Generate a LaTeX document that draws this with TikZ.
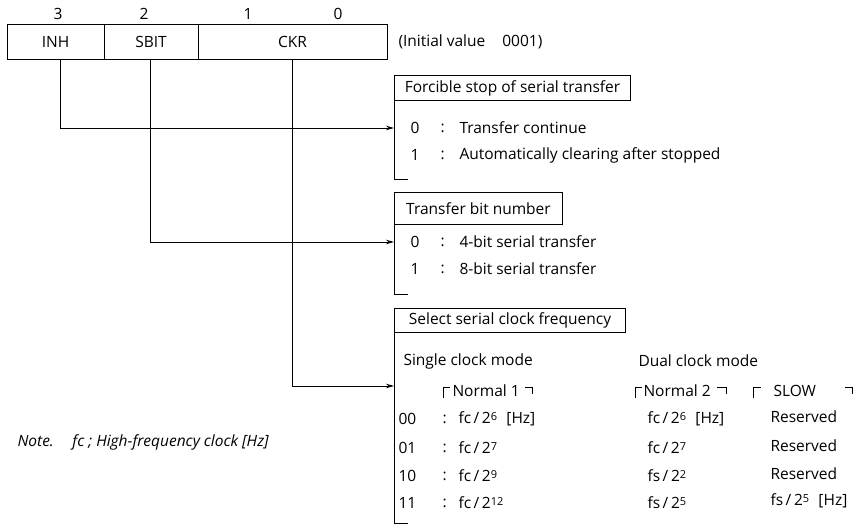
\documentclass[tikz,border=0pt]{standalone}
\usepackage{fontspec}
\setmainfont{Open Sans}
\usetikzlibrary{arrows.meta}
\newcommand{\spw}[1]{\raisebox{0.35ex}{\fontsize{11}{12}\selectfont #1}}
\begin{document}
\begin{tikzpicture}[x=1pt,y=-1pt,line width=1pt,
  font=\fontsize{15.5}{18}\selectfont,
  cell/.style={draw, minimum height=34, inner sep=0},
  titlebox/.style={draw, minimum height=25, inner sep=0, anchor=north west},
  lab/.style={anchor=west, inner sep=0},
  arr/.style={-{Stealth[length=8pt,width=4.5pt]}}]
\useasboundingbox (0,0) rectangle (858,527);
% register
\node[cell, minimum width=97] (inh) at (55.5,42) {INH};
\node[cell, minimum width=94] (sbit) at (151,42) {SBIT};
\node[cell, minimum width=189] (ckr) at (292.5,42) {CKR};
\node (d3) at (58,14) {3};
\node (d2) at (144,14) {2};
\node (d1) at (248,14) {1};
\node (d0) at (338,14) {0};
\node[lab] (init) at (398,42) {(Initial value\hspace{1.1em}0001)};
% box 1
\node[titlebox, minimum width=236] (t1) at (394,75) {Forcible stop of serial transfer};
\coordinate (a1) at (394,128);
\coordinate (h1) at (408,179);
\draw (t1.south west) |- (h1);
\node[lab] (r10) at (410,128) {0};
\node[lab] (c10) at (440,128) {:};
\node[lab] (v10) at (459,128) {Transfer continue};
\node[lab] (r11) at (410,155) {1};
\node[lab] (c11) at (440,155) {:};
\node[lab] (v11) at (459,155) {Automatically clearing after stopped};
% box 2
\node[titlebox, minimum width=168, minimum height=32] (t2) at (394,192) {Transfer bit number};
\coordinate (a2) at (394,242);
\coordinate (h2) at (408,294);
\draw (t2.south west) |- (h2);
\node[lab] (r20) at (410,242) {0};
\node[lab] (c20) at (440,242) {:};
\node[lab] (v20) at (459,242) {4-bit serial transfer};
\node[lab] (r21) at (410,269) {1};
\node[lab] (c21) at (440,269) {:};
\node[lab] (v21) at (459,269) {8-bit serial transfer};
% box 3
\node[titlebox, minimum width=231, minimum height=24] (t3) at (394,308) {Select serial clock frequency};
\coordinate (a3) at (394,386);
\coordinate (h3) at (408,523);
\draw (t3.south west) |- (h3);
\node[lab] (single) at (403,361) {Single clock mode};
\node[lab] (dual) at (638,361) {Dual clock mode};
\node[lab] (n1) at (452,391) {Normal 1};
\node[lab] (n2) at (643,391) {Normal 2};
\node[lab] (slow) at (773,391) {SLOW};
\draw (443,398) -- (443,387) -- (450,387);
\draw ([xshift=5pt]n1.east |- 0,387) -- ([xshift=12pt]n1.east |- 0,387) -- ([xshift=12pt]n1.east |- 0,394);
\draw (635,398) -- (635,387) -- (642,387);
\draw ([xshift=6pt]n2.east |- 0,387) -- ([xshift=15pt]n2.east |- 0,387) -- ([xshift=15pt]n2.east |- 0,394);
\draw (753,398) -- (753,387) -- (761,387);
\draw (845,387) -- (852,387) -- (852,394);
% rows
\node[lab] (r30) at (398,419) {00};
\node[lab] (c30) at (442,419) {:};
\node[lab] (v30) at (458,419) {fc\,/\,2\spw{6}\hspace{0.6em}[Hz]};
\node[lab] (w30) at (647,419) {fc\,/\,2\spw{6}\hspace{0.6em}[Hz]};
\node[lab] (s30) at (770,417) {Reserved};
\node[lab] (r31) at (398,448) {01};
\node[lab] (c31) at (442,448) {:};
\node[lab] (v31) at (458,448) {fc\,/\,2\spw{7}};
\node[lab] (w31) at (647,448) {fc\,/\,2\spw{7}};
\node[lab] (s31) at (770,446) {Reserved};
\node[lab] (r32) at (398,476) {10};
\node[lab] (c32) at (442,476) {:};
\node[lab] (v32) at (458,476) {fc\,/\,2\spw{9}};
\node[lab] (w32) at (647,476) {fs\,/\,2\spw{2}};
\node[lab] (s32) at (770,474) {Reserved};
\node[lab] (r33) at (398,503) {11};
\node[lab] (c33) at (442,503) {:};
\node[lab] (v33) at (458,503) {fc\,/\,2\spw{12}};
\node[lab] (w33) at (647,503) {fs\,/\,2\spw{5}};
\node[lab] (s33) at (770,501) {fs\,/\,2\spw{5}\hspace{0.6em}[Hz]};
% note
\node[lab, font=\fontsize{15.5}{18}\selectfont\itshape] (note) at (17,442) {Note.\hspace{1.2em}fc ; High-frequency clock [Hz]};
% connectors
\draw[arr] (inh.south -| 60,0) |- (a1);
\draw[arr] (sbit.south -| 150,0) |- (a2);
\draw[arr] (ckr.south) |- (a3);
\end{tikzpicture}
\end{document}
